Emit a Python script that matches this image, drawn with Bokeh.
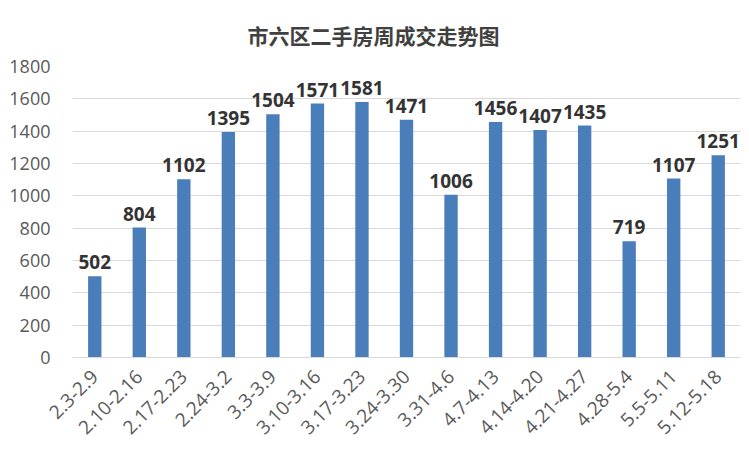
from bokeh.plotting import figure
from bokeh.models import ColumnDataSource, FixedTicker, LabelSet, Range1d
from bokeh.core.properties import value
from bokeh.embed import file_html
from bokeh.resources import INLINE
from math import pi

weeks = ["2.3-2.9", "2.10-2.16", "2.17-2.23", "2.24-3.2", "3.3-3.9", "3.10-3.16",
         "3.17-3.23", "3.24-3.30", "3.31-4.6", "4.7-4.13", "4.14-4.20", "4.21-4.27",
         "4.28-5.4", "5.5-5.11", "5.12-5.18"]
deals = [502, 804, 1102, 1395, 1504, 1571, 1581, 1471, 1006, 1456, 1407, 1435, 719, 1107, 1251]
y_ticks = [0, 200, 400, 600, 800, 1000, 1200, 1400, 1600, 1800]

src = ColumnDataSource(dict(x=weeks, y=deals, t=[str(v) for v in deals]))

p = figure(x_range=weeks, y_range=Range1d(0, 1800), width=741, height=450,
           output_backend="svg", toolbar_location=None,
           title="市六区二手房周成交走势图",
           min_border_left=72, min_border_right=1, min_border_top=66, min_border_bottom=93)

p.title.align = "left"
p.title.offset = 175
p.title.text_font = "Noto Sans CJK SC"
p.title.text_font_size = "21px"
p.title.text_font_style = "bold"
p.title.text_color = "#404040"
p.title.standoff = 34

p.vbar(x="x", top="y", width=0.3, source=src, color="#4A7EBB", line_color=None)

labels = LabelSet(x="x", y="y", text="t", source=src, text_align="center",
                  text_baseline="bottom", y_offset=7, text_font=value("Open Sans"),
                  text_font_size=value("19px"), text_font_style=value("bold"),
                  text_color=value("#333333"))
p.add_layout(labels)

p.outline_line_color = None
p.xgrid.grid_line_color = None
p.ygrid.grid_line_color = "#D9D9D9"
p.yaxis.ticker = FixedTicker(ticks=y_ticks)
p.yaxis.axis_line_color = None
p.yaxis.major_tick_line_color = None
p.yaxis.minor_tick_line_color = None
p.yaxis.major_label_text_font = "Open Sans"
p.yaxis.major_label_text_font_size = "18px"
p.yaxis.major_label_text_color = "#595959"
p.yaxis.major_label_standoff = 16

p.xaxis.axis_line_color = "#D9D9D9"
p.xaxis.major_tick_line_color = None
p.xaxis.minor_tick_line_color = None
p.xaxis.major_label_orientation = pi / 4
p.xaxis.major_label_text_font = "Open Sans"
p.xaxis.major_label_text_font_size = "19px"
p.xaxis.major_label_text_color = "#595959"
p.xaxis.major_label_standoff = 10
p.x_range.range_padding = 0

open("out.html", "w").write(file_html(p, INLINE))
